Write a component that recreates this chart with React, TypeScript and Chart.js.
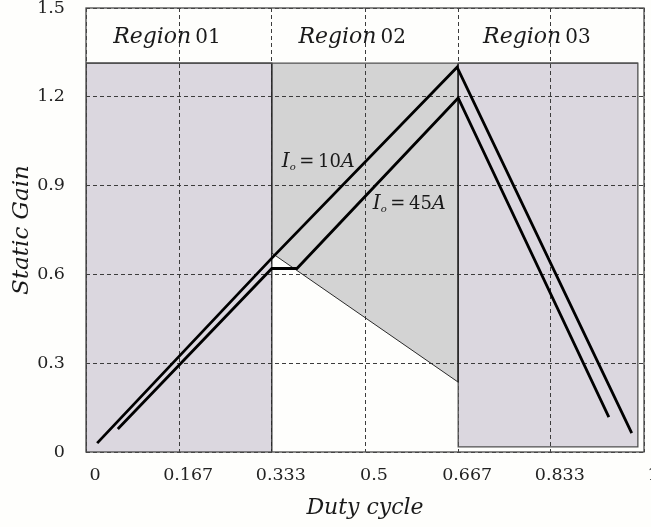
import React, { useEffect, useRef } from 'react';
import { Chart, registerables } from 'chart.js';

Chart.register(...registerables);

// ---- data ----
const xTickValues = [0, 0.167, 0.333, 0.5, 0.667, 0.833, 1];
const xTickLabels = ['0', '0.167', '0.333', '0.5', '0.667', '0.833', '1'];
const yTickValues = [0, 0.3, 0.6, 0.9, 1.2, 1.5];
const yTickLabels = ['0', '0.3', '0.6', '0.9', '1.2', '1.5'];

// Static gain curves (duty cycle, gain)
const gain10AX = [0.02, 0.333, 0.665, 0.978];
const gain10AY = [0.03, 0.655, 1.3, 0.064];
const gain45AX = [0.057, 0.333, 0.378, 0.667, 0.937];
const gain45AY = [0.078, 0.62, 0.62, 1.196, 0.118];

// Operating regions
const region01X = [0, 0, 0.333, 0.333];
const region01Y = [0, 1.314, 1.314, 0];
const region02X = [0.667, 0.667, 0.333, 0.333];
const region02Y = [1.314, 0.236, 0.672, 1.314];
const region03X = [0.667, 0.989, 0.989, 0.667, 0.667];
const region03Y = [1.314, 1.314, 0.017, 0.017, 1.314];
const headerLineX = [0, 0.989];
const headerLineY = [1.314, 1.314];

const regionNames = ['01', '02', '03'];
const regionLabelX = [0.145, 0.477, 0.808];
const regionLabelY = 1.382;

const currentLabels = ['10', '45'];
const currentLabelX = [0.351, 0.514];
const currentLabelY = [0.963, 0.821];

const toPoints = (xs: number[], ys: number[]) => xs.map((x, i) => ({ x, y: ys[i] }));

type Seg = { t: string; f: string; dy?: number };

function drawRich(ctx: CanvasRenderingContext2D, segs: Seg[], x: number, y: number, align: 'center' | 'left') {
  let total = 0;
  const widths = segs.map((s) => {
    ctx.font = s.f;
    const w = ctx.measureText(s.t).width;
    total += w;
    return w;
  });
  let cx = align === 'center' ? x - total / 2 : x;
  ctx.textAlign = 'left';
  ctx.textBaseline = 'alphabetic';
  segs.forEach((s, i) => {
    ctx.font = s.f;
    ctx.fillText(s.t, cx, y + (s.dy || 0));
    cx += widths[i];
  });
}

const overlayPlugin = {
  id: 'overlay',
  afterDraw(chart: any) {
    const { ctx, chartArea } = chart;
    const xs = chart.scales.x;
    const ys = chart.scales.y;
    ctx.save();
    ctx.strokeStyle = '#4a4a4a';
    ctx.lineWidth = 1.3;
    ctx.strokeRect(chartArea.left, chartArea.top, chartArea.right - chartArea.left, chartArea.bottom - chartArea.top);
    ctx.fillStyle = '#1a1a1a';
    regionNames.forEach((n, i) => {
      drawRich(
        ctx,
        [
          { t: 'Region', f: 'italic 22px "DejaVu Serif"' },
          { t: '\u2009' + n, f: '20px "DejaVu Serif"' },
        ],
        xs.getPixelForValue(regionLabelX[i]),
        ys.getPixelForValue(regionLabelY),
        'center'
      );
    });
    currentLabels.forEach((c, i) => {
      drawRich(
        ctx,
        [
          { t: 'I', f: 'italic 20px "DejaVu Serif"' },
          { t: 'o', f: 'italic 10px "DejaVu Serif"', dy: 3 },
          { t: '\u2009=\u2009', f: '18px "DejaVu Serif"' },
          { t: c, f: '18px "DejaVu Serif"' },
          { t: 'A', f: 'italic 19px "DejaVu Serif"' },
        ],
        xs.getPixelForValue(currentLabelX[i]),
        ys.getPixelForValue(currentLabelY[i]),
        'left'
      );
    });
    ctx.restore();
  },
};

export default function App() {
  const canvasRef = useRef<HTMLCanvasElement | null>(null);

  useEffect(() => {
    if (!canvasRef.current) return;
    const regionStyle = {
      pointRadius: 0,
      borderWidth: 1.3,
      tension: 0,
      order: 2,
    };
    const chart = new Chart(canvasRef.current, {
      type: 'line',
      data: {
        datasets: [
          {
            label: 'Io = 10A',
            data: toPoints(gain10AX, gain10AY),
            borderColor: '#000000',
            borderWidth: 2.8,
            pointRadius: 0,
            fill: false,
            order: 0,
          },
          {
            label: 'Io = 45A',
            data: toPoints(gain45AX, gain45AY),
            borderColor: '#000000',
            borderWidth: 2.8,
            pointRadius: 0,
            fill: false,
            order: 0,
          },
          {
            label: 'Region 01',
            data: toPoints(region01X, region01Y),
            borderColor: '#2a2a2a',
            backgroundColor: '#dbd7df',
            fill: 'shape',
            ...regionStyle,
          },
          {
            label: 'Region 02',
            data: toPoints(region02X, region02Y),
            borderColor: '#2a2a2a',
            backgroundColor: '#d3d3d3',
            fill: 'shape',
            borderWidth: 1,
            pointRadius: 0,
            order: 2,
          },
          {
            label: 'Region 03',
            data: toPoints(region03X, region03Y),
            borderColor: '#505050',
            backgroundColor: '#dbd7df',
            fill: 'shape',
            ...regionStyle,
          },
          {
            label: 'Header',
            data: toPoints(headerLineX, headerLineY),
            borderColor: '#505050',
            borderWidth: 1.3,
            pointRadius: 0,
            fill: false,
            order: 1,
          },
        ],
      },
      options: {
        animation: false,
        responsive: false,
        devicePixelRatio: 1,
        layout: { padding: { left: 0, right: 7, top: 8, bottom: 0 } },
        plugins: {
          legend: { display: false },
          tooltip: { enabled: false },
          filler: { drawTime: 'beforeDraw' },
        },
        scales: {
          x: {
            type: 'linear',
            min: 0,
            max: 1,
            afterBuildTicks: (axis: any) => {
              axis.ticks = xTickValues.map((v) => ({ value: v }));
            },
            afterFit: (axis: any) => {
              axis.height = 75;
              axis.paddingLeft = 0;
              axis.paddingRight = 0;
            },
            ticks: {
              autoSkip: false,
              maxRotation: 0,
              labelOffset: 9,
              padding: 13,
              color: '#222',
              font: { family: '"DejaVu Serif", serif', size: 17.5, lineHeight: 1.2 },
              callback: (_v: any, i: number) => xTickLabels[i],
            },
            grid: { color: '#3c3c3c', lineWidth: 1, drawTicks: false },
            border: { display: false, dash: [4, 3] },
            title: {
              display: true,
              text: 'Duty cycle',
              color: '#1a1a1a',
              font: { family: '"DejaVu Serif"', style: 'italic', size: 22 },
              padding: { top: 4, bottom: 6 },
            },
          },
          y: {
            type: 'linear',
            min: 0,
            max: 1.5,
            afterBuildTicks: (axis: any) => {
              axis.ticks = yTickValues.map((v) => ({ value: v }));
            },
            afterFit: (axis: any) => {
              axis.width = 86;
              axis.paddingTop = 0;
              axis.paddingBottom = 0;
            },
            ticks: {
              autoSkip: false,
              padding: 21,
              color: '#222',
              font: { family: '"DejaVu Serif", serif', size: 17.5, lineHeight: 1.2 },
              callback: (_v: any, i: number) => yTickLabels[i],
            },
            grid: { color: '#3c3c3c', lineWidth: 1, drawTicks: false },
            border: { display: false, dash: [4, 3] },
            title: {
              display: true,
              text: 'Static Gain',
              color: '#1a1a1a',
              font: { family: '"DejaVu Serif"', style: 'italic', size: 23 },
              padding: { top: 8, bottom: 4 },
            },
          },
        },
      },
      plugins: [overlayPlugin],
    } as any);
    return () => chart.destroy();
  }, []);

  return (
    <div style={{ position: 'fixed', left: 0, top: 0, width: 651, height: 527, background: '#fefefc' }}>
      <canvas ref={canvasRef} width={651} height={527} style={{ display: 'block' }} />
    </div>
  );
}
